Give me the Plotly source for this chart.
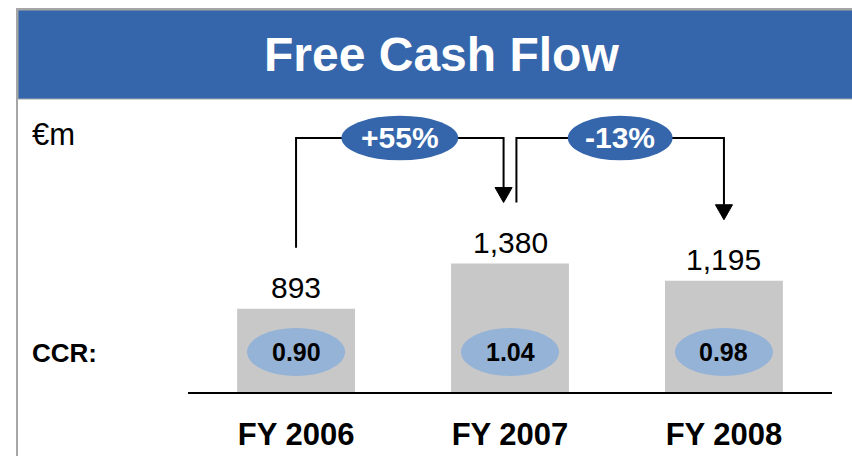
import plotly.graph_objects as go

# ---- data ----
years = ["FY 2006", "FY 2007", "FY 2008"]
fcf = [893, 1380, 1195]          # Free cash flow, €m
ccr = [0.90, 1.04, 0.98]         # cash conversion ratio
unit_label = "€m"
ccr_label = "CCR:"
title_text = "Free Cash Flow"

# ---- styles ----
FONT = "Liberation Sans, Arial, sans-serif"
BLUE = "#3566AB"
LIGHT_BLUE = "#95B3D7"
BAR_GREY = "#C8C8C8"
FRAME_GREY = "#A6A6A6"

W, H = 852, 456
x_dom = [188 / W, 832 / W]
y_dom = [64 / H, 356 / H]
y_max = 3136

fig = go.Figure()
xs = list(range(len(years)))
fig.add_trace(go.Bar(
    x=xs, y=fcf, width=0.551, marker=dict(color=BAR_GREY, line=dict(width=0)),
    text=[f"{v:,}" for v in fcf], textposition="none", hoverinfo="skip",
))

shapes = []
annotations = []

# frame + banner (paper coordinates)
shapes.append(dict(type="rect", xref="paper", yref="paper",
                   x0=17 / W, x1=1.02, y0=-0.05, y1=(H - 9) / H,
                   line=dict(color=FRAME_GREY, width=2), fillcolor="rgba(0,0,0,0)", layer="below"))
shapes.append(dict(type="rect", xref="paper", yref="paper",
                   x0=18 / W, x1=1.02, y0=(H - 99) / H, y1=(H - 10) / H,
                   line=dict(color=FRAME_GREY, width=1), fillcolor=BLUE, layer="below"))
annotations.append(dict(text=f"<b>{title_text}</b>", xref="paper", yref="paper",
                        x=441 / W, y=(H - 55) / H, xanchor="center", yanchor="middle",
                        showarrow=False, font=dict(family=FONT, size=48, color="white")))
annotations.append(dict(text=unit_label, xref="paper", yref="paper",
                        x=30 / W, y=(H - 134) / H, xanchor="left", yanchor="middle",
                        showarrow=False, font=dict(family=FONT, size=31, color="black")))
annotations.append(dict(text=f"<b>{ccr_label}</b>", xref="paper", yref="paper",
                        x=30 / W, y=(H - 353) / H, xanchor="left", yanchor="middle",
                        showarrow=False, font=dict(family=FONT, size=26, color="black")))

# value labels
for i, v in enumerate(fcf):
    annotations.append(dict(text=f"{v:,}", x=i, y=v, xref="x", yref="y",
                            xanchor="center", yanchor="bottom", yshift=3, showarrow=False,
                            font=dict(family=FONT, size=30, color="black")))

# CCR badges
for i, c in enumerate(ccr):
    shapes.append(dict(type="circle", xref="x", yref="y",
                       x0=i - 0.229, x1=i + 0.229, y0=430 - 258, y1=430 + 258,
                       fillcolor=LIGHT_BLUE, line=dict(width=0), layer="above"))
    annotations.append(dict(text=f"<b>{c:.2f}</b>", x=i, y=430, xref="x", yref="y",
                            xanchor="center", yanchor="middle", showarrow=False,
                            font=dict(family=FONT, size=25, color="black")))

# growth connectors
gap = 655          # distance above bar value where connector starts/ends
bracket_y = 2728
head_h = 161
head_hw = 0.04
dx = 0.03
badge_hw = [0.273, 0.245]
badge_hh = 240
for i in range(len(fcf) - 1):
    pct = (fcf[i + 1] / fcf[i] - 1) * 100
    label = f"{pct:+.0f}%"
    x0 = i + (dx if i > 0 else 0)
    x1 = (i + 1) - (dx if i + 1 < len(fcf) - 1 else 0)
    y_start = fcf[i] + gap
    tip = fcf[i + 1] + gap
    base = tip + head_h
    shapes.append(dict(type="path", xref="x", yref="y",
                       path=f"M{x0},{y_start} L{x0},{bracket_y} L{x1},{bracket_y} L{x1},{base}",
                       line=dict(color="black", width=2), layer="above"))
    shapes.append(dict(type="path", xref="x", yref="y",
                       path=f"M{x1 - head_hw},{base} L{x1 + head_hw},{base} L{x1},{tip} Z",
                       fillcolor="black", line=dict(color="black", width=1), layer="above"))
    cx = (x0 + x1) / 2
    shapes.append(dict(type="circle", xref="x", yref="y",
                       x0=cx - badge_hw[i], x1=cx + badge_hw[i],
                       y0=bracket_y - badge_hh, y1=bracket_y + badge_hh,
                       fillcolor=BLUE, line=dict(width=0), layer="above"))
    annotations.append(dict(text=f"<b>{label}</b>", x=cx, y=bracket_y, xref="x", yref="y",
                            xanchor="center", yanchor="middle", showarrow=False,
                            font=dict(family=FONT, size=30, color="white")))

fig.update_layout(
    width=W, height=H, autosize=False,
    margin=dict(l=0, r=0, t=0, b=0),
    paper_bgcolor="white", plot_bgcolor="rgba(0,0,0,0)",
    showlegend=False,
    shapes=shapes, annotations=annotations,
    xaxis=dict(domain=x_dom, range=[-0.505, 2.505], showgrid=False, zeroline=False,
               showline=True, linecolor="black", linewidth=2,
               tickmode="array", tickvals=xs, ticktext=[f"<b>{y}</b>" for y in years],
               ticks="", ticklabelstandoff=14,
               tickfont=dict(family=FONT, size=31, color="black"), fixedrange=True),
    yaxis=dict(domain=y_dom, range=[0, y_max], visible=False, fixedrange=True),
)

fig.write_html("out.html", config={"displayModeBar": False},
               post_script="document.body.style.margin='0';document.body.style.overflow='hidden';")
